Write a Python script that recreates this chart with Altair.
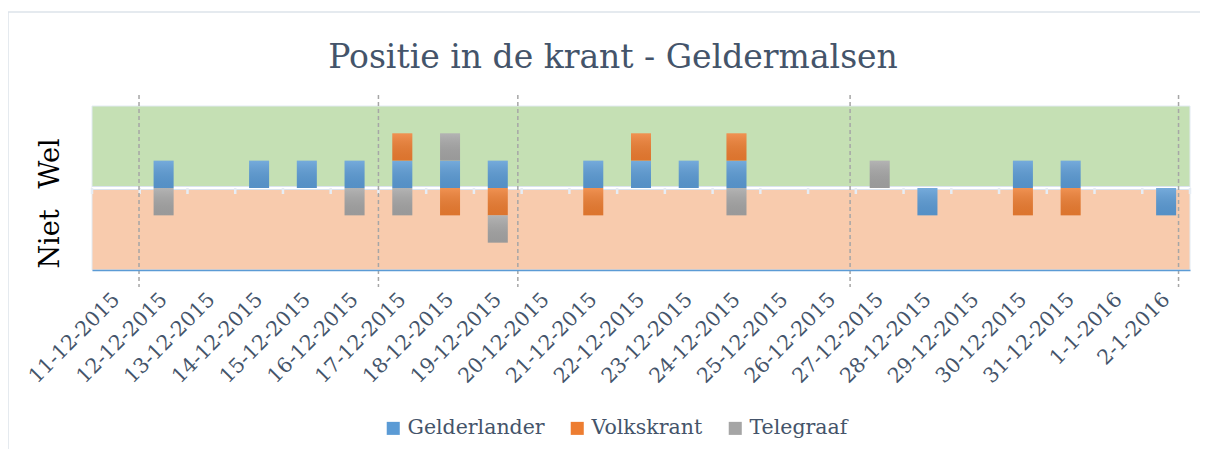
import json
import altair as alt
import pandas as pd

# ---------------- data ----------------
title_text = "Positie in de krant - Geldermalsen"
dates = ["11-12-2015", "12-12-2015", "13-12-2015", "14-12-2015", "15-12-2015",
         "16-12-2015", "17-12-2015", "18-12-2015", "19-12-2015", "20-12-2015",
         "21-12-2015", "22-12-2015", "23-12-2015", "24-12-2015", "25-12-2015",
         "26-12-2015", "27-12-2015", "28-12-2015", "29-12-2015", "30-12-2015",
         "31-12-2015", "1-1-2016", "2-1-2016"]
series = ["Gelderlander", "Volkskrant", "Telegraaf"]
# +1 = Wel, -1 = Niet, 0 = not present
gelderlander = [0, 1, 0, 1, 1, 1, 1, 1, 1, 0, 1, 1, 1, 1, 0, 0, 0, -1, 0, 1, 1, 0, -1]
volkskrant   = [0, 0, 0, 0, 0, 0, 1, -1, -1, 0, -1, 1, 0, 1, 0, 0, 0, 0, 0, -1, -1, 0, 0]
telegraaf    = [0, -1, 0, 0, 0, -1, -1, 1, -1, 0, 0, 0, 0, -1, 0, 0, 1, 0, 0, 0, 0, 0, 0]
series_colors = ["#5b9bd5", "#ed7d31", "#a5a5a5"]
marker_positions = [0.485, 5.5, 8.42, 15.38, 22.26]   # dashed vertical markers (index units)
y_labels = ["Wel", "Niet"]
y_label_values = [0.92, -1.85]

W, H = 1098, 164
TXT = "#44546a"
FONT = "DejaVu Serif"

rows = []
for s, vals in zip(series, [gelderlander, volkskrant, telegraaf]):
    for i, v in enumerate(vals):
        if v != 0:
            rows.append({"idx": i, "date": dates[i], "series": s, "value": v,
                         "order": series.index(s)})
bars_df = pd.DataFrame(rows)

bg_df = pd.DataFrame({"lo": [0, -3], "hi": [3, 0], "fill": ["#c5e0b4", "#f8cbad"]})
mark_df = pd.DataFrame({"pos": marker_positions})
tick_df = pd.DataFrame({"pos": [i - 0.5 for i in range(len(dates) + 1)]})

xscale = alt.Scale(domain=[-0.5, len(dates) - 0.5], nice=False, zero=False, padding=0)
yscale = alt.Scale(domain=[-3, 3], nice=False, padding=0)

label_expr = json.dumps(dates) + "[datum.value]"
x_axis = alt.Axis(values=list(range(len(dates))), labelExpr=label_expr, title=None,
                  grid=False, ticks=False, domainColor="#5b9bd5", domainWidth=1.5,
                  labelAngle=315, labelAlign="right", labelBaseline="middle",
                  labelPadding=26, labelFont=FONT, labelFontSize=20.5, labelColor=TXT,
                  labelOverlap=False, labelFlush=False, labelBound=False, zindex=1)
y_axis = alt.Axis(values=y_label_values,
                  labelExpr="datum.value > 0 ? '%s' : '%s'" % (y_labels[0], y_labels[1]),
                  title=None, grid=False, ticks=False, domain=False,
                  labelAngle=270, labelAlign="center", labelBaseline="middle",
                  labelPadding=42, labelFont=FONT, labelFontSize=27, labelColor="black",
                  zindex=1)

frame = alt.Chart(pd.DataFrame({"a": [0]})).mark_rect(
    filled=False, stroke="#dde3ea", strokeWidth=1.5).encode(
    x=alt.value(-84), x2=alt.value(1400), y=alt.value(-94), y2=alt.value(600))

title = alt.Chart(pd.DataFrame({"t": [title_text]})).mark_text(
    font=FONT, fontSize=33, color=TXT, align="center", baseline="alphabetic").encode(
    text="t:N", x=alt.value(521), y=alt.value(-38))

bg = alt.Chart(bg_df).mark_rect(stroke="#e2eaf2", strokeWidth=1).encode(
    x=alt.X(datum=-0.5, scale=xscale, axis=x_axis),
    x2=alt.X2(datum=len(dates) - 0.5),
    y=alt.Y("lo:Q", scale=yscale, axis=y_axis),
    y2="hi:Q",
    fill=alt.Fill("fill:N", scale=None),
)

base_line = alt.Chart(pd.DataFrame({"a": [0]})).mark_rule(
    color="#dbe4ef", strokeWidth=4).encode(
    x=alt.X(datum=-0.5, scale=xscale), x2=alt.X2(datum=len(dates) - 0.5),
    y=alt.Y(datum=0, scale=yscale))
base_line2 = alt.Chart(pd.DataFrame({"a": [0]})).mark_rule(
    color="white", strokeWidth=2).encode(
    x=alt.X(datum=-0.5, scale=xscale), x2=alt.X2(datum=len(dates) - 0.5),
    y=alt.Y(datum=0, scale=yscale))
ticks = alt.Chart(tick_df).mark_rule(color="#e6edf5", strokeWidth=2.5).encode(
    x=alt.X("pos:Q", scale=xscale),
    y=alt.Y(datum=0, scale=yscale), y2=alt.Y2(datum=-0.22))

bars = alt.Chart(bars_df).mark_bar(size=20).encode(
    x=alt.X("idx:Q", scale=xscale),
    y=alt.Y("value:Q", scale=yscale, stack="zero"),
    color=alt.Color("series:N", scale=alt.Scale(domain=series, range=series_colors),
                    legend=alt.Legend(title=None, orient="none", direction="horizontal",
                                      legendX=291, legendY=312, symbolType="square",
                                      symbolSize=170, symbolStrokeWidth=0,
                                      labelFont=FONT, labelFontSize=20.5, labelColor=TXT,
                                      columnPadding=22, labelOffset=4)),
    order=alt.Order("order:Q", sort="ascending"),
)
shade = alt.Chart(bars_df).mark_bar(size=20, color=alt.Gradient(
    gradient="linear", x1=0, x2=0, y1=0, y2=1,
    stops=[alt.GradientStop(color="rgba(255,255,255,0.16)", offset=0),
           alt.GradientStop(color="rgba(0,0,0,0.07)", offset=1)])).encode(
    x=alt.X("idx:Q", scale=xscale),
    y=alt.Y("value:Q", scale=yscale, stack="zero"),
    detail="series:N",
    order=alt.Order("order:Q", sort="ascending"),
)

markers = alt.Chart(mark_df).mark_rule(color="#a6a6a6", strokeWidth=1.5,
                                       strokeDash=[4, 3]).encode(
    x=alt.X("pos:Q", scale=xscale), y=alt.value(-11), y2=alt.value(H + 17))

chart = alt.layer(frame, title, bg, base_line, base_line2, ticks, bars, shade, markers).properties(
    width=W, height=H,
    autosize=alt.AutoSizeParams(type="none"),
    padding={"left": 84, "top": 98, "right": 10, "bottom": 179},
).configure_view(stroke=None)

chart.save("out.html", embed_options={"renderer": "svg", "actions": False})
